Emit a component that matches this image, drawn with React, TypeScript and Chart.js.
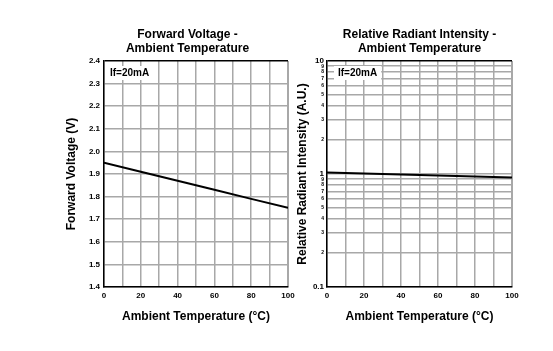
import React, { useEffect, useRef } from "react";
import { Chart, registerables } from "chart.js";

Chart.register(...registerables);

const temperatures = [0, 20, 40, 60, 80, 100];
const forwardVoltage = [1.95, 1.91, 1.87, 1.83, 1.79, 1.75];
const relativeIntensity = [1.03, 1.01, 0.99, 0.97, 0.95, 0.93];

const voltageTicks = [1.4, 1.5, 1.6, 1.7, 1.8, 1.9, 2.0, 2.1, 2.2, 2.3, 2.4];
const intensityTicks = [
  0.1, 0.2, 0.3, 0.4, 0.5, 0.6, 0.7, 0.8, 0.9, 1, 2, 3, 4, 5, 6, 7, 8, 9, 10,
];
const intensityLabels = [
  "0.1", "2", "3", "4", "5", "6", "7", "8", "9", "1", "2", "3", "4", "5", "6", "7", "8", "9", "10",
];
const intensityMajor = [0.1, 1, 10];

const leftTitle = ["Forward Voltage -", "Ambient Temperature"];
const rightTitle = ["Relative Radiant Intensity -", "Ambient Temperature"];
const xTitle = "Ambient Temperature (°C)";
const leftYTitle = "Forward Voltage (V)";
const rightYTitle = "Relative Radiant Intensity (A.U.)";
const conditionLabel = "If=20mA";

const FONT = "'Liberation Sans', Arial, sans-serif";
const GRID = "#a8a8a8";

function overlayPlugin(title: string[], centerX: number, labelX: number) {
  return {
    id: "overlay",
    afterDraw(chart: any) {
      const ctx = chart.ctx;
      ctx.save();
      ctx.fillStyle = "#000";
      ctx.font = `bold 12px ${FONT}`;
      ctx.textAlign = "center";
      ctx.textBaseline = "middle";
      title.forEach((t, i) => ctx.fillText(t, centerX, 35 + i * 14));
      ctx.font = `bold 10px ${FONT}`;
      const w = ctx.measureText(conditionLabel).width;
      ctx.fillStyle = "#fff";
      ctx.fillRect(labelX - 4, 66, w + 8, 14);
      ctx.fillStyle = "#000";
      ctx.textAlign = "left";
      ctx.fillText(conditionLabel, labelX, 73);
      ctx.restore();
    },
  };
}

function xScale() {
  return {
    type: "linear",
    min: 0,
    max: 100,
    afterFit: (s: any) => {
      s.height = 64;
    },
    afterBuildTicks: (s: any) => {
      s.ticks = [0, 10, 20, 30, 40, 50, 60, 70, 80, 90, 100].map((v) => ({ value: v }));
    },
    ticks: {
      autoSkip: false,
      maxRotation: 0,
      padding: 4,
      color: "#000",
      font: { family: FONT, size: 8, weight: "bold" },
      callback: (v: any) => (Number(v) % 20 === 0 ? String(v) : ""),
    },
    grid: {
      drawTicks: false,
      color: GRID,
      lineWidth: (c: any) => (c.tick && c.tick.value === 100 ? 2 : 1.5),
    },
    border: { color: "#000", width: 1.5 },
    title: {
      display: true,
      text: xTitle,
      color: "#000",
      font: { family: FONT, size: 12, weight: "bold" },
      padding: { top: 0, bottom: 27 },
    },
  };
}

function LeftChart() {
  const ref = useRef<HTMLCanvasElement>(null);
  useEffect(() => {
    const chart = new Chart(ref.current as HTMLCanvasElement, {
      type: "line",
      data: {
        datasets: [
          {
            data: temperatures.map((t, i) => ({ x: t, y: forwardVoltage[i] })),
            borderColor: "#000",
            borderWidth: 2,
            pointRadius: 0,
            tension: 0,
          },
        ],
      },
      options: {
        animation: false,
        responsive: false,
        devicePixelRatio: 1,
        layout: { padding: { left: 60, right: 265, top: 61, bottom: 0 } },
        plugins: { legend: { display: false }, tooltip: { enabled: false } },
        scales: {
          x: xScale() as any,
          y: {
            type: "linear",
            min: 1.4,
            max: 2.4,
            afterFit: (s: any) => {
              s.width = 44;
            },
            afterBuildTicks: (s: any) => {
              s.ticks = voltageTicks.map((v) => ({ value: v }));
            },
            ticks: {
              autoSkip: false,
              padding: 4,
              color: "#000",
              font: { family: FONT, size: 8, weight: "bold" },
              callback: (v: any) => Number(v).toFixed(1),
            },
            grid: {
              drawTicks: false,
              lineWidth: 1.5,
              color: (c: any) => (c.tick && Math.abs(c.tick.value - 2.4) < 1e-6 ? "#000" : GRID),
            },
            border: { color: "#000", width: 1.5 },
            title: {
              display: true,
              text: leftYTitle,
              color: "#000",
              font: { family: FONT, size: 12, weight: "bold" },
              padding: { top: 4, bottom: 0 },
            },
          },
        },
      },
      plugins: [overlayPlugin(leftTitle, 187.5, 110)],
    } as any);
    return () => chart.destroy();
  }, []);
  return (
    <canvas
      ref={ref}
      width={553}
      height={351}
      style={{ position: "absolute", left: 0, top: 0, width: 553, height: 351 }}
    />
  );
}

function RightChart() {
  const ref = useRef<HTMLCanvasElement>(null);
  useEffect(() => {
    const chart = new Chart(ref.current as HTMLCanvasElement, {
      type: "line",
      data: {
        datasets: [
          {
            data: temperatures.map((t, i) => ({ x: t, y: relativeIntensity[i] })),
            borderColor: "#000",
            borderWidth: 2,
            pointRadius: 0,
            tension: 0,
          },
        ],
      },
      options: {
        animation: false,
        responsive: false,
        devicePixelRatio: 1,
        layout: { padding: { left: 290, right: 41, top: 61, bottom: 0 } },
        plugins: { legend: { display: false }, tooltip: { enabled: false } },
        scales: {
          x: xScale() as any,
          y: {
            type: "logarithmic",
            min: 0.1,
            max: 10,
            afterFit: (s: any) => {
              s.width = 37;
            },
            afterBuildTicks: (s: any) => {
              s.ticks = intensityTicks.map((v) => ({ value: v }));
            },
            ticks: {
              autoSkip: false,
              padding: 3,
              color: "#000",
              font: (c: any) => {
                const major = c.tick && intensityMajor.some((m) => Math.abs(m - c.tick.value) < 1e-9);
                return { family: FONT, size: major ? 8 : 5, weight: "bold" };
              },
              callback: (_v: any, i: number) => intensityLabels[i],
            },
            grid: {
              drawTicks: false,
              lineWidth: 1.5,
              color: (c: any) => (c.tick && Math.abs(c.tick.value - 10) < 1e-9 ? "#000" : GRID),
            },
            border: { color: "#000", width: 1.5 },
            title: {
              display: true,
              text: rightYTitle,
              color: "#000",
              font: { family: FONT, size: 12, weight: "bold" },
              padding: { top: 5, bottom: 0 },
            },
          },
        },
      },
      plugins: [overlayPlugin(rightTitle, 419.5, 338)],
    } as any);
    return () => chart.destroy();
  }, []);
  return (
    <canvas
      ref={ref}
      width={553}
      height={351}
      style={{ position: "absolute", left: 0, top: 0, width: 553, height: 351 }}
    />
  );
}

export default function App() {
  return (
    <div
      style={{
        position: "fixed",
        left: 0,
        top: 0,
        width: 553,
        height: 351,
        background: "#fff",
      }}
    >
      <LeftChart />
      <RightChart />
    </div>
  );
}
